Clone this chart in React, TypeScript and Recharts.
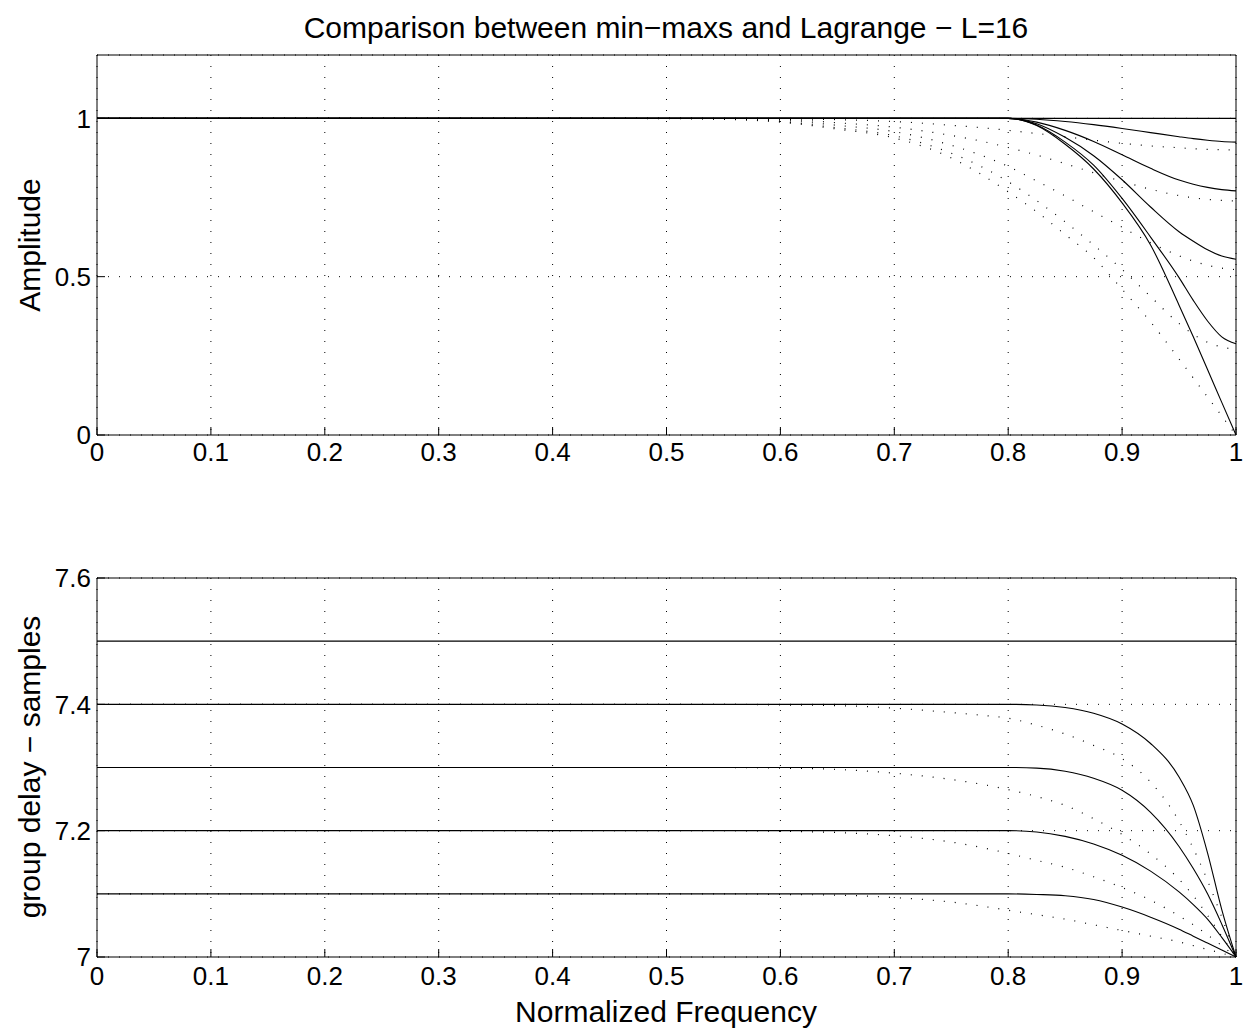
import { LineChart, Line, XAxis, YAxis, CartesianGrid } from 'recharts'

const FONT = "'Liberation Sans', Arial, Helvetica, sans-serif"

// normalized frequency grid (denser near the band edge)
const freq = [0, 0.1, 0.2, 0.3, 0.4, 0.5, 0.55, 0.6, 0.65, 0.7, 0.75, 0.775, 0.8, 0.825, 0.85, 0.875, 0.9, 0.925, 0.95, 0.9625, 0.975, 0.9875, 1]

const xTicks = [0, 0.1, 0.2, 0.3, 0.4, 0.5, 0.6, 0.7, 0.8, 0.9, 1]
const ampTicks = [0, 0.5, 1]
const delayTicks = [7, 7.2, 7.4, 7.6]

// amplitude, min-max designs (solid), fractional part 0 .. 0.5
const ampMm0 = [1, 1, 1, 1, 1, 1, 1, 1, 1, 1, 1, 1, 1, 1, 1, 1, 1, 1, 1, 1, 1, 1, 1]
const ampMm1 = [1, 1, 1, 1, 1, 1, 1, 1, 1, 1, 1, 1, 1, 0.997, 0.99, 0.98, 0.968, 0.955, 0.942, 0.936, 0.931, 0.927, 0.925]
const ampMm2 = [1, 1, 1, 1, 1, 1, 1, 1, 1, 1, 1, 1, 1, 0.988, 0.962, 0.927, 0.885, 0.842, 0.805, 0.792, 0.782, 0.775, 0.771]
const ampMm3 = [1, 1, 1, 1, 1, 1, 1, 1, 1, 1, 1, 1, 1, 0.983, 0.94, 0.882, 0.806, 0.72, 0.642, 0.612, 0.585, 0.565, 0.555]
const ampMm4 = [1, 1, 1, 1, 1, 1, 1, 1, 1, 1, 1, 1, 1, 0.979, 0.925, 0.852, 0.747, 0.625, 0.497, 0.425, 0.36, 0.31, 0.288]
const ampMm5 = [1, 1, 1, 1, 1, 1, 1, 1, 1, 1, 1, 1, 1, 0.977, 0.918, 0.84, 0.733, 0.6, 0.41, 0.31, 0.207, 0.103, 0]

// amplitude, Lagrange (dotted)
const ampLg1 = [1, 1, 1, 1, 1, 1, 1, 0.999, 0.996, 0.99, 0.978, 0.971, 0.962, 0.952, 0.942, 0.931, 0.921, 0.913, 0.907, 0.904, 0.902, 0.901, 0.9]
const ampLg2 = [1, 1, 1, 1, 1, 1, 0.999, 0.997, 0.986, 0.972, 0.946, 0.929, 0.908, 0.884, 0.857, 0.828, 0.801, 0.776, 0.756, 0.749, 0.744, 0.741, 0.739]
const ampLg3 = [1, 1, 1, 1, 1, 1, 0.999, 0.994, 0.978, 0.958, 0.915, 0.885, 0.848, 0.802, 0.755, 0.705, 0.656, 0.607, 0.566, 0.549, 0.536, 0.527, 0.522]
const ampLg4 = [1, 1, 1, 1, 1, 1, 0.998, 0.99, 0.97, 0.945, 0.89, 0.85, 0.8, 0.74, 0.673, 0.6, 0.523, 0.437, 0.352, 0.318, 0.293, 0.278, 0.27]
const ampLg5 = [1, 1, 1, 1, 1, 0.999, 0.997, 0.988, 0.966, 0.938, 0.875, 0.826, 0.768, 0.705, 0.633, 0.56, 0.46, 0.357, 0.24, 0.18, 0.12, 0.06, 0]

// group delay, min-max designs (solid)
const gdMm5 = [7.5, 7.5, 7.5, 7.5, 7.5, 7.5, 7.5, 7.5, 7.5, 7.5, 7.5, 7.5, 7.5, 7.5, 7.5, 7.5, 7.5, 7.5, 7.5, 7.5, 7.5, 7.5, 7.5]
const gdMm4 = [7.4, 7.4, 7.4, 7.4, 7.4, 7.4, 7.4, 7.4, 7.4, 7.4, 7.4, 7.4, 7.4, 7.399, 7.395, 7.386, 7.369, 7.338, 7.285, 7.24, 7.165, 7.075, 7.0]
const gdMm3 = [7.3, 7.3, 7.3, 7.3, 7.3, 7.3, 7.3, 7.3, 7.3, 7.3, 7.3, 7.3, 7.3, 7.299, 7.294, 7.283, 7.264, 7.229, 7.175, 7.14, 7.1, 7.052, 7.0]
const gdMm2 = [7.2, 7.2, 7.2, 7.2, 7.2, 7.2, 7.2, 7.2, 7.2, 7.2, 7.2, 7.2, 7.2, 7.198, 7.191, 7.179, 7.161, 7.136, 7.103, 7.083, 7.06, 7.031, 7.0]
const gdMm1 = [7.1, 7.1, 7.1, 7.1, 7.1, 7.1, 7.1, 7.1, 7.1, 7.1, 7.1, 7.1, 7.1, 7.099, 7.097, 7.091, 7.079, 7.063, 7.044, 7.033, 7.022, 7.011, 7.0]

// group delay, Lagrange (dotted)
const gdLg4 = [7.4, 7.4, 7.4, 7.4, 7.4, 7.4, 7.4, 7.399, 7.398, 7.394, 7.387, 7.383, 7.378, 7.367, 7.353, 7.335, 7.314, 7.277, 7.215, 7.172, 7.121, 7.063, 7.0]
const gdLg3 = [7.3, 7.3, 7.3, 7.3, 7.3, 7.3, 7.3, 7.299, 7.297, 7.291, 7.281, 7.274, 7.265, 7.254, 7.24, 7.219, 7.194, 7.163, 7.123, 7.097, 7.066, 7.033, 7.0]
const gdLg2 = [7.2, 7.2, 7.2, 7.2, 7.2, 7.2, 7.2, 7.199, 7.197, 7.192, 7.182, 7.174, 7.164, 7.153, 7.142, 7.127, 7.11, 7.09, 7.065, 7.051, 7.035, 7.018, 7.0]
const gdLg1 = [7.1, 7.1, 7.1, 7.1, 7.1, 7.1, 7.1, 7.099, 7.098, 7.094, 7.087, 7.081, 7.074, 7.067, 7.06, 7.051, 7.042, 7.033, 7.024, 7.018, 7.012, 7.006, 7.0]

const ampData = freq.map((f, i) => ({
  f,
  mm0: ampMm0[i], mm1: ampMm1[i], mm2: ampMm2[i], mm3: ampMm3[i], mm4: ampMm4[i], mm5: ampMm5[i],
  lg1: ampLg1[i], lg2: ampLg2[i], lg3: ampLg3[i], lg4: ampLg4[i], lg5: ampLg5[i],
}))

const gdData = freq.map((f, i) => ({
  f,
  mm5: gdMm5[i], mm4: gdMm4[i], mm3: gdMm3[i], mm2: gdMm2[i], mm1: gdMm1[i],
  lg4: gdLg4[i], lg3: gdLg3[i], lg2: gdLg2[i], lg1: gdLg1[i],
}))

const ampKeys = ['lg1', 'lg2', 'lg3', 'lg4', 'lg5', 'mm0', 'mm1', 'mm2', 'mm3', 'mm4', 'mm5']
const gdKeys = ['lg4', 'lg3', 'lg2', 'lg1', 'mm5', 'mm4', 'mm3', 'mm2', 'mm1']

const tickStyle = { fill: '#000', fontSize: 26, fontFamily: FONT }

function Panel({ data, keys, domain, yTicks, height, margin, tickMargin }: any) {
  return (
    <LineChart width={1249} height={height} data={data} margin={margin}>
      <CartesianGrid stroke="#000" strokeDasharray="1 10" />
      <XAxis
        dataKey="f"
        type="number"
        domain={[0, 1]}
        ticks={xTicks}
        interval={0}
        height={40}
        axisLine={{ stroke: '#000' }}
        tickLine={{ stroke: '#000' }}
        tickSize={-8}
        tickMargin={tickMargin}
        tick={tickStyle}
      />
      <XAxis
        xAxisId="top"
        orientation="top"
        type="number"
        domain={[0, 1]}
        ticks={xTicks}
        interval={0}
        height={1}
        axisLine={{ stroke: '#000' }}
        tickLine={{ stroke: '#000' }}
        tickSize={-8}
        tick={false}
      />
      <YAxis
        type="number"
        domain={domain}
        ticks={yTicks}
        interval={0}
        width={60}
        axisLine={{ stroke: '#000' }}
        tickLine={{ stroke: '#000' }}
        tickSize={-8}
        tickMargin={14}
        tick={tickStyle}
      />
      <YAxis
        yAxisId="right"
        orientation="right"
        type="number"
        domain={domain}
        ticks={yTicks}
        interval={0}
        width={1}
        axisLine={{ stroke: '#000' }}
        tickLine={{ stroke: '#000' }}
        tickSize={-8}
        tick={false}
      />
      {keys.map((k: string) => (
        <Line
          key={k}
          dataKey={k}
          type="monotone"
          stroke="#000"
          strokeWidth={k.startsWith('lg') ? 1.2 : 1.1}
          strokeDasharray={k.startsWith('lg') ? '1 10' : undefined}
          dot={false}
          activeDot={false}
          isAnimationActive={false}
        />
      ))}
    </LineChart>
  )
}

const textBase: React.CSSProperties = {
  position: 'absolute',
  fontFamily: FONT,
  color: '#000',
  whiteSpace: 'nowrap',
  lineHeight: 1,
  fontSize: 30,
}

export default function App() {
  return (
    <div style={{ position: 'absolute', left: 0, top: 0, width: 1249, height: 1031, background: '#fff', overflow: 'hidden' }}>
      <div style={{ position: 'absolute', left: 0, top: 0 }}>
        <Panel
          data={ampData}
          keys={ampKeys}
          domain={[0, 1.2]}
          yTicks={ampTicks}
          height={480}
          margin={{ top: 54, right: 12, bottom: 5, left: 37 }}
          tickMargin={16}
        />
      </div>
      <div style={{ position: 'absolute', left: 0, top: 500 }}>
        <Panel
          data={gdData}
          keys={gdKeys}
          domain={[7, 7.6]}
          yTicks={delayTicks}
          height={531}
          margin={{ top: 77, right: 12, bottom: 34, left: 37 }}
          tickMargin={18}
        />
      </div>
      <div style={{ ...textBase, left: 666, top: 28, transform: 'translate(-50%, -50%)' }}>
        Comparison between min−maxs and Lagrange − L=16
      </div>
      <div style={{ ...textBase, left: 30, top: 245, transform: 'translate(-50%, -50%) rotate(-90deg)' }}>
        Amplitude
      </div>
      <div style={{ ...textBase, left: 30, top: 767, transform: 'translate(-50%, -50%) rotate(-90deg)' }}>
        group delay − samples
      </div>
      <div style={{ ...textBase, left: 666, top: 1012, transform: 'translate(-50%, -50%)' }}>
        Normalized Frequency
      </div>
    </div>
  )
}
